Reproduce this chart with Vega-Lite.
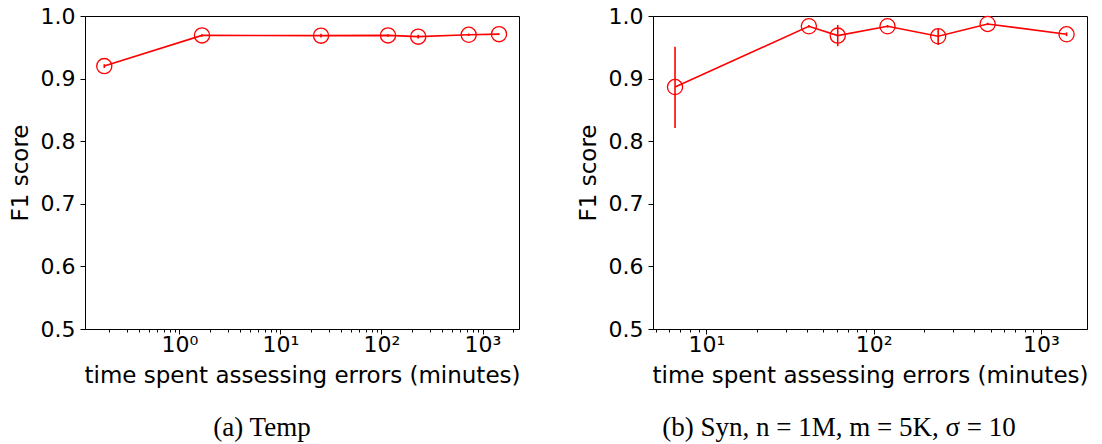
{
  "$schema": "https://vega.github.io/schema/vega-lite/v6.json",
  "background": "white",
  "padding": {"left": 8, "top": 4, "right": 5, "bottom": 5},
  "bounds": "flush",
  "spacing": 134,
  "config": {
    "font": "DejaVu Sans",
    "view": {"stroke": "black", "strokeWidth": 1},
    "axis": {
      "grid": false,
      "domainColor": "black",
      "tickColor": "black",
      "labelColor": "black",
      "titleColor": "black",
      "labelFont": "DejaVu Sans",
      "titleFont": "DejaVu Sans",
      "labelFontSize": 22,
      "titleFontSize": 23,
      "titleFontWeight": "normal",
      "tickWidth": 1,
      "domainWidth": 1
    }
  },
  "datasets": {
    "temp": [
      {"t": 0.18, "f1": 0.920, "lo": 0.917, "hi": 0.923},
      {"t": 1.67, "f1": 0.969, "lo": 0.967, "hi": 0.971},
      {"t": 25.2, "f1": 0.9686, "lo": 0.9656, "hi": 0.9716},
      {"t": 116, "f1": 0.969, "lo": 0.967, "hi": 0.971},
      {"t": 231, "f1": 0.967, "lo": 0.964, "hi": 0.970},
      {"t": 730, "f1": 0.970, "lo": 0.968, "hi": 0.972},
      {"t": 1457, "f1": 0.971, "lo": 0.970, "hi": 0.972}
    ],
    "syn": [
      {"t": 6.5, "f1": 0.8865, "lo": 0.821, "hi": 0.951},
      {"t": 41, "f1": 0.9836, "lo": 0.9816, "hi": 0.9856},
      {"t": 61, "f1": 0.9687, "lo": 0.9517, "hi": 0.9857},
      {"t": 121, "f1": 0.9836, "lo": 0.9816, "hi": 0.9856},
      {"t": 243, "f1": 0.9676, "lo": 0.9538, "hi": 0.9793},
      {"t": 480, "f1": 0.9873, "lo": 0.9853, "hi": 0.9893},
      {"t": 1422, "f1": 0.9708, "lo": 0.9678, "hi": 0.9738}
    ]
  },
  "hconcat": [
    {
      "width": 434,
      "height": 313,
      "data": {"name": "temp"},
      "title": {"text": "(a) Temp", "orient": "bottom", "frame": "group", "anchor": "middle", "dx": -40, "font": "Liberation Serif", "fontSize": 27, "fontWeight": "normal", "color": "black", "offset": 28},
      "resolve": {"axis": {"x": "independent"}},
      "layer": [
        {
          "mark": {"type": "line", "color": "#ff0000", "strokeWidth": 1.6},
          "encoding": {
            "x": {"field": "t", "type": "quantitative", "scale": {"type": "log", "domain": [0.116, 2298], "nice": false},
              "axis": {"orient": "bottom", "values": [1, 10, 100, 1000], "tickSize": 5, "labelPadding": 0, "labelExpr": "'10' + ['⁰','¹','²','³'][round(log(datum.value)/LN10)]", "title": "time spent assessing errors (minutes)", "titlePadding": 9, "labelFlush": false, "labelOverlap": false}},
            "y": {"field": "f1", "type": "quantitative", "scale": {"domain": [0.5, 1.0], "nice": false, "zero": false},
              "axis": {"values": [0.5, 0.6, 0.7, 0.8, 0.9, 1.0], "format": ".1f", "tickSize": 5, "labelPadding": 5, "title": "F1 score", "titlePadding": 8, "labelFlush": false, "labelOverlap": false}}
          }
        },
        {
          "mark": {"type": "rule", "color": "#ff0000", "strokeWidth": 1.6},
          "encoding": {
            "x": {"field": "t", "type": "quantitative",
              "axis": {"orient": "bottom", "values": [0.2, 0.3, 0.4, 0.5, 0.6, 0.7, 0.8, 0.9, 2, 3, 4, 5, 6, 7, 8, 9, 20, 30, 40, 50, 60, 70, 80, 90, 200, 300, 400, 500, 600, 700, 800, 900, 2000], "tickSize": 3, "labels": false, "domain": false, "title": null}},
            "y": {"field": "lo", "type": "quantitative",
              "axis": {"values": [0.5, 0.6, 0.7, 0.8, 0.9, 1.0], "format": ".1f", "tickSize": 5, "labelPadding": 5, "title": "F1 score", "titlePadding": 8, "labelFlush": false, "labelOverlap": false}},
            "y2": {"field": "hi"}
          }
        },
        {
          "mark": {"type": "point", "shape": "circle", "filled": false, "color": "#ff0000", "size": 230, "strokeWidth": 1.3, "opacity": 1},
          "encoding": {
            "x": {"field": "t", "type": "quantitative", "axis": null},
            "y": {"field": "f1", "type": "quantitative",
              "axis": {"values": [0.5, 0.6, 0.7, 0.8, 0.9, 1.0], "format": ".1f", "tickSize": 5, "labelPadding": 5, "title": "F1 score", "titlePadding": 8, "labelFlush": false, "labelOverlap": false}}
          }
        }
      ]
    },
    {
      "width": 434,
      "height": 313,
      "data": {"name": "syn"},
      "title": {"text": "(b) Syn, n = 1M, m = 5K, σ = 10", "orient": "bottom", "frame": "group", "anchor": "middle", "dx": -31, "font": "Liberation Serif", "fontSize": 27, "fontWeight": "normal", "color": "black", "offset": 28},
      "resolve": {"axis": {"x": "independent"}},
      "layer": [
        {
          "mark": {"type": "line", "color": "#ff0000", "strokeWidth": 1.6},
          "encoding": {
            "x": {"field": "t", "type": "quantitative", "scale": {"type": "log", "domain": [4.8, 1884], "nice": false},
              "axis": {"orient": "bottom", "values": [10, 100, 1000], "tickSize": 5, "labelPadding": 0, "labelExpr": "'10' + ['⁰','¹','²','³'][round(log(datum.value)/LN10)]", "title": "time spent assessing errors (minutes)", "titlePadding": 9, "labelFlush": false, "labelOverlap": false}},
            "y": {"field": "f1", "type": "quantitative", "scale": {"domain": [0.5, 1.0], "nice": false, "zero": false},
              "axis": {"values": [0.5, 0.6, 0.7, 0.8, 0.9, 1.0], "format": ".1f", "tickSize": 5, "labelPadding": 5, "title": "F1 score", "titlePadding": 8, "labelFlush": false, "labelOverlap": false}}
          }
        },
        {
          "mark": {"type": "rule", "color": "#ff0000", "strokeWidth": 1.6},
          "encoding": {
            "x": {"field": "t", "type": "quantitative",
              "axis": {"orient": "bottom", "values": [5, 6, 7, 8, 9, 20, 30, 40, 50, 60, 70, 80, 90, 200, 300, 400, 500, 600, 700, 800, 900], "tickSize": 3, "labels": false, "domain": false, "title": null}},
            "y": {"field": "lo", "type": "quantitative",
              "axis": {"values": [0.5, 0.6, 0.7, 0.8, 0.9, 1.0], "format": ".1f", "tickSize": 5, "labelPadding": 5, "title": "F1 score", "titlePadding": 8, "labelFlush": false, "labelOverlap": false}},
            "y2": {"field": "hi"}
          }
        },
        {
          "mark": {"type": "point", "shape": "circle", "filled": false, "color": "#ff0000", "size": 230, "strokeWidth": 1.3, "opacity": 1},
          "encoding": {
            "x": {"field": "t", "type": "quantitative", "axis": null},
            "y": {"field": "f1", "type": "quantitative",
              "axis": {"values": [0.5, 0.6, 0.7, 0.8, 0.9, 1.0], "format": ".1f", "tickSize": 5, "labelPadding": 5, "title": "F1 score", "titlePadding": 8, "labelFlush": false, "labelOverlap": false}}
          }
        }
      ]
    }
  ]
}
